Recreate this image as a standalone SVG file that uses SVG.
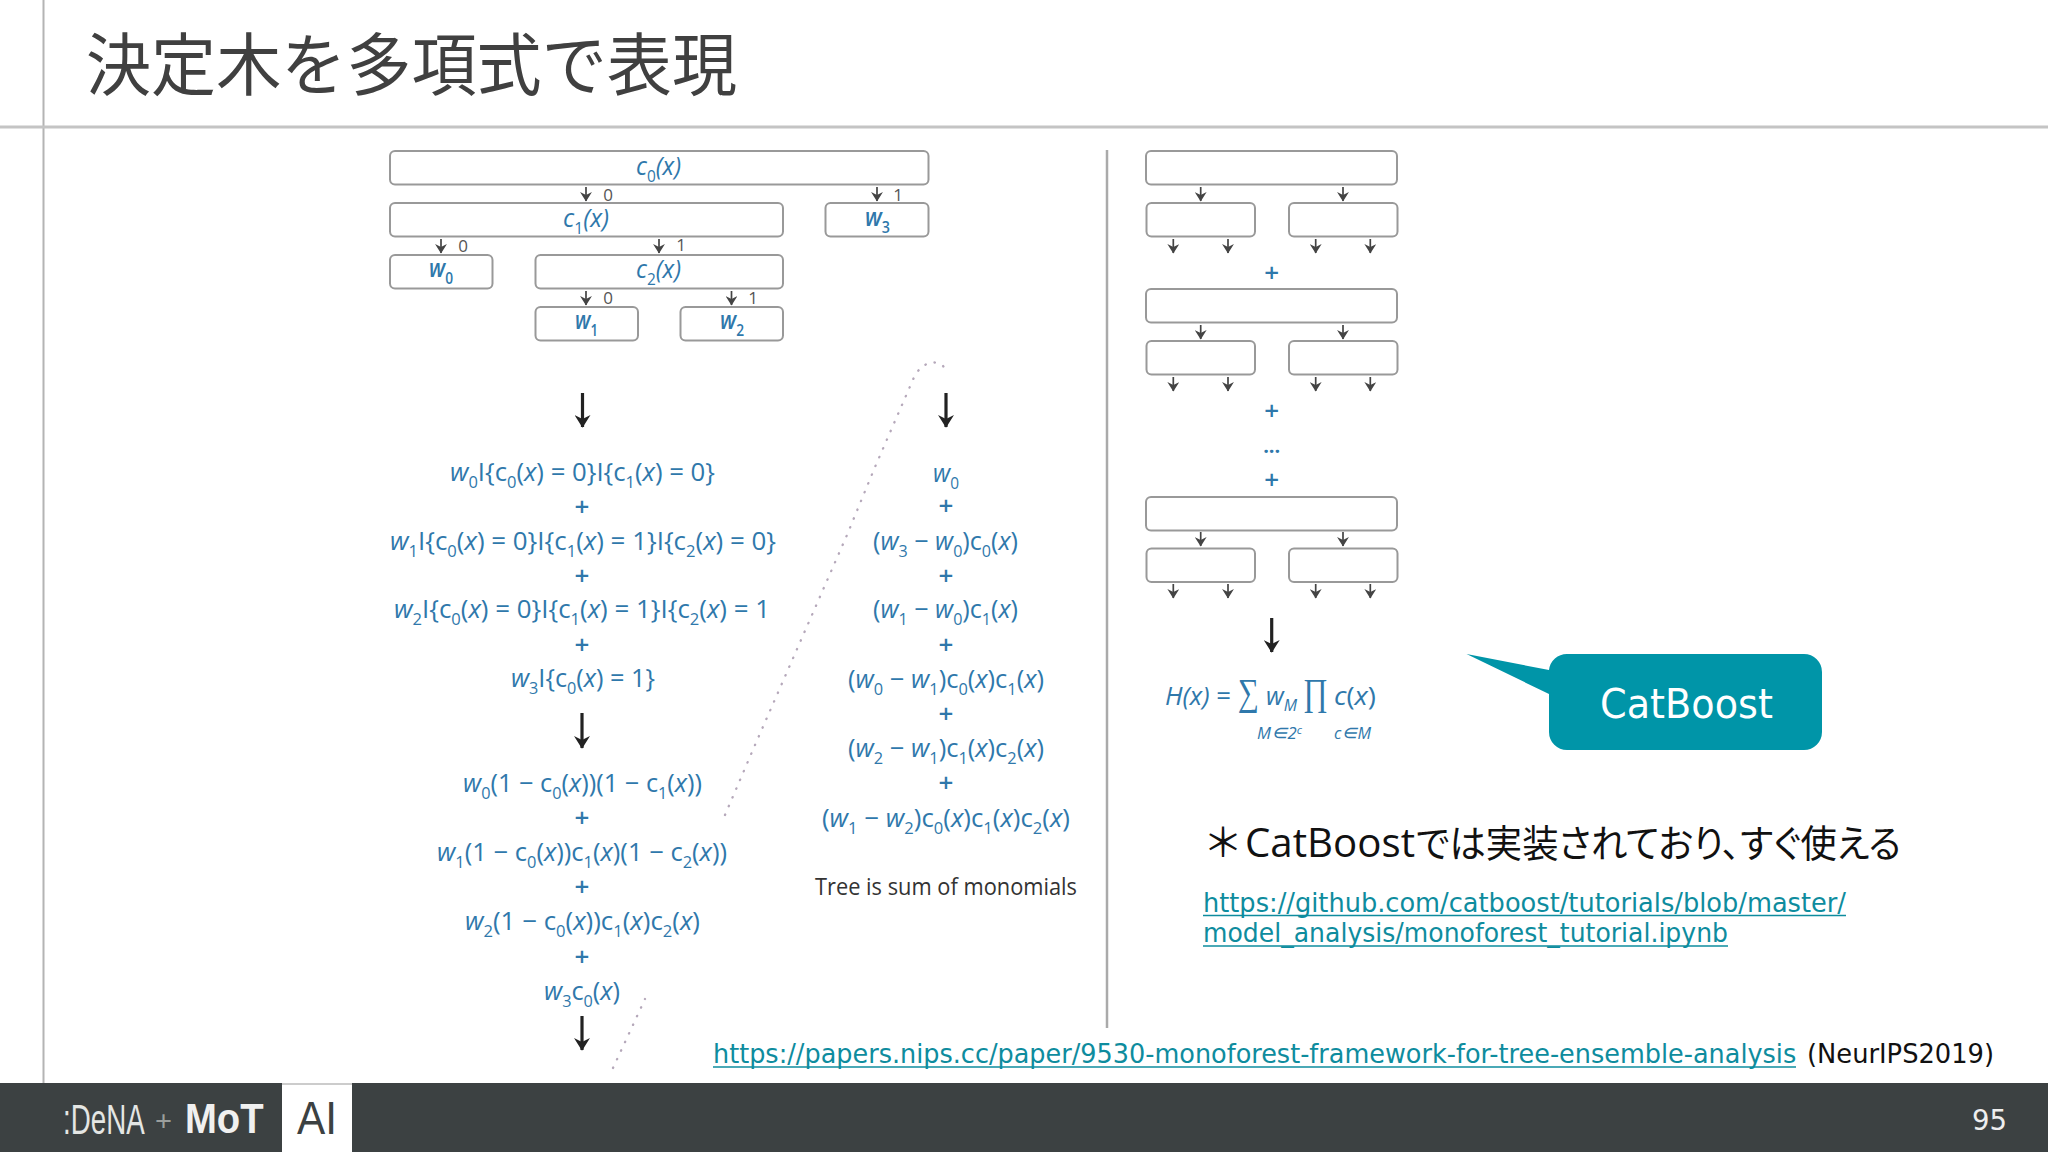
<svg xmlns="http://www.w3.org/2000/svg" width="2048" height="1152" viewBox="0 0 2048 1152">
<style>
text{font-family:"Open Sans","Noto Sans","Noto Sans CJK JP",sans-serif}
.box{fill:#fff;stroke:#999;stroke-width:2}
.m{fill:#2f78ab;font-size:25px;font-weight:500}
.t{fill:#2f78ab;font-size:25px;font-weight:500}
.i{font-style:italic}
.s{font-size:16px;font-style:normal}
.p{fill:#2f78ab;font-size:26px;font-weight:600;text-anchor:middle}
.d{fill:#555;font-size:17px;text-anchor:middle}
.sm{stroke:#444;stroke-width:1.7;fill:none;marker-end:url(#h)}
.bg{stroke:#222;stroke-width:3.2;fill:none;marker-end:url(#h2)}
.dot{fill:none;stroke:#b5a8ba;stroke-width:2.300;stroke-linecap:round;stroke-dasharray:.5 9}
.lk{fill:#0e8c9e;font-family:"DejaVu Sans",sans-serif;font-size:27px}
.ul{stroke:#0e8c9e;stroke-width:1.600}
.lg{font-family:"Liberation Sans",sans-serif}
</style>
<defs>
<marker id="h" viewBox="0 0 8 10" refX="7.500" refY="5" markerWidth="6" markerHeight="7" orient="auto"><path d="M0 0L8 5L0 10L2.500 5z" fill="#444"/></marker>
<marker id="h2" viewBox="0 0 8 10" refX="7.500" refY="5" markerWidth="4.400" markerHeight="5" orient="auto"><path d="M0 0L8 5L0 10L2.500 5z" fill="#222"/></marker>
</defs>
<rect width="2048" height="1152" fill="#fff"/>
<g id="frame">
<line x1="43.500" y1="0" x2="43.500" y2="1084" stroke="#b4b4b4" stroke-width="2"/>
<line x1="0" y1="127" x2="2048" y2="127" stroke="#c4c4c4" stroke-width="3"/>
<text x="86" y="90" font-size="68" fill="#404040" textLength="651" lengthAdjust="spacingAndGlyphs" style="font-family:'Noto Sans CJK JP',sans-serif;font-weight:400">決定木を多項式で表現</text>
</g>
<g id="connectors">
<path class="sm" d="M586 187V201"/><path class="sm" d="M877 187V201"/>
<path class="sm" d="M441 239V253"/><path class="sm" d="M659 239V253"/>
<path class="sm" d="M586 291V305"/><path class="sm" d="M731.500 291V305"/>
<path class="bg" d="M582.500 393V427"/><path class="bg" d="M946 393V427"/>
<path class="bg" d="M582 713V748"/><path class="bg" d="M582 1016V1050"/>
<path class="sm" d="M1200.700 187V201"/><path class="sm" d="M1343 187V201"/>
<path class="sm" d="M1173.300 239V253"/><path class="sm" d="M1228 239V253"/><path class="sm" d="M1315.700 239V253"/><path class="sm" d="M1370.300 239V253"/>
<path class="sm" d="M1200.700 325V339"/><path class="sm" d="M1343 325V339"/>
<path class="sm" d="M1173.300 377V391"/><path class="sm" d="M1228 377V391"/><path class="sm" d="M1315.700 377V391"/><path class="sm" d="M1370.300 377V391"/>
<path class="sm" d="M1200.700 532V546"/><path class="sm" d="M1343 532V546"/>
<path class="sm" d="M1173.300 584V598"/><path class="sm" d="M1228 584V598"/><path class="sm" d="M1315.700 584V598"/><path class="sm" d="M1370.300 584V598"/>
<path class="bg" d="M1271.700 618V652"/>
<path class="dot" d="M725 815L755 745L847 535L875 467L915 375Q925 360 938 363Q944 364 947 374"/>
<path class="dot" d="M613 1068L645 999"/>
<line x1="1107" y1="150" x2="1107" y2="1028" stroke="#aaa" stroke-width="2.500"/>
</g>
<g id="tree-labels">
<text class="d" x="608" y="201">0</text><text class="d" x="898" y="201">1</text>
<text class="d" x="463" y="252">0</text><text class="d" x="681" y="251">1</text>
<text class="d" x="608" y="304">0</text><text class="d" x="753" y="304">1</text>
</g>
<g id="node-c0"><rect class="box" x="390" y="151" width="538.500" height="33.500" rx="5"/><text class="t" x="636" y="175" textLength="45" lengthAdjust="spacingAndGlyphs"><tspan class="i">c</tspan><tspan class="s" dy="7">0</tspan><tspan class="i" dy="-7">(x)</tspan></text></g>
<g id="node-c1"><rect class="box" x="390" y="203" width="393" height="33.500" rx="5"/><text class="t" x="563" y="227" textLength="46" lengthAdjust="spacingAndGlyphs"><tspan class="i">c</tspan><tspan class="s" dy="7">1</tspan><tspan class="i" dy="-7">(x)</tspan></text></g>
<g id="node-w3"><rect class="box" x="825.500" y="203" width="103" height="33.500" rx="5"/><text class="t" x="865" y="226" textLength="25" lengthAdjust="spacingAndGlyphs" style="font-weight:600"><tspan class="i">w</tspan><tspan class="s" dy="7">3</tspan></text></g>
<g id="node-w0"><rect class="box" x="390" y="255" width="102.500" height="33.500" rx="5"/><text class="t" x="429" y="277" textLength="24" lengthAdjust="spacingAndGlyphs" style="font-weight:600"><tspan class="i">w</tspan><tspan class="s" dy="7">0</tspan></text></g>
<g id="node-c2"><rect class="box" x="535.500" y="255" width="247.500" height="33.500" rx="5"/><text class="t" x="636" y="278" textLength="45" lengthAdjust="spacingAndGlyphs"><tspan class="i">c</tspan><tspan class="s" dy="7">2</tspan><tspan class="i" dy="-7">(x)</tspan></text></g>
<g id="node-w1"><rect class="box" x="535.500" y="307" width="102.500" height="33.500" rx="5"/><text class="t" x="575" y="329" textLength="23" lengthAdjust="spacingAndGlyphs" style="font-weight:600"><tspan class="i">w</tspan><tspan class="s" dy="7">1</tspan></text></g>
<g id="node-w2"><rect class="box" x="680.500" y="307" width="102.500" height="33.500" rx="5"/><text class="t" x="720" y="329" textLength="24" lengthAdjust="spacingAndGlyphs" style="font-weight:600"><tspan class="i">w</tspan><tspan class="s" dy="7">2</tspan></text></g>
<g id="formula-indicator">
<text class="m" x="450" y="481" textLength="265" lengthAdjust="spacingAndGlyphs"><tspan class="i">w</tspan><tspan class="s" dy="7">0</tspan><tspan dy="-7">I{c</tspan><tspan class="s" dy="7">0</tspan><tspan dy="-7">(</tspan><tspan class="i">x</tspan>) = 0}I{c<tspan class="s" dy="7">1</tspan><tspan dy="-7">(</tspan><tspan class="i">x</tspan>) = 0}</text>
<text class="p" x="582" y="516">+</text>
<text class="m" x="390" y="550" textLength="386" lengthAdjust="spacingAndGlyphs"><tspan class="i">w</tspan><tspan class="s" dy="7">1</tspan><tspan dy="-7">I{c</tspan><tspan class="s" dy="7">0</tspan><tspan dy="-7">(</tspan><tspan class="i">x</tspan>) = 0}I{c<tspan class="s" dy="7">1</tspan><tspan dy="-7">(</tspan><tspan class="i">x</tspan>) = 1}I{c<tspan class="s" dy="7">2</tspan><tspan dy="-7">(</tspan><tspan class="i">x</tspan>) = 0}</text>
<text class="p" x="582" y="585">+</text>
<text class="m" x="394" y="618" textLength="376" lengthAdjust="spacingAndGlyphs"><tspan class="i">w</tspan><tspan class="s" dy="7">2</tspan><tspan dy="-7">I{c</tspan><tspan class="s" dy="7">0</tspan><tspan dy="-7">(</tspan><tspan class="i">x</tspan>) = 0}I{c<tspan class="s" dy="7">1</tspan><tspan dy="-7">(</tspan><tspan class="i">x</tspan>) = 1}I{c<tspan class="s" dy="7">2</tspan><tspan dy="-7">(</tspan><tspan class="i">x</tspan>) = 1</text>
<text class="p" x="582" y="654">+</text>
<text class="m" x="511" y="687" textLength="144" lengthAdjust="spacingAndGlyphs"><tspan class="i">w</tspan><tspan class="s" dy="7">3</tspan><tspan dy="-7">I{c</tspan><tspan class="s" dy="7">0</tspan><tspan dy="-7">(</tspan><tspan class="i">x</tspan>) = 1}</text>
</g>
<g id="formula-product">
<text class="m" x="463" y="792" textLength="239" lengthAdjust="spacingAndGlyphs"><tspan class="i">w</tspan><tspan class="s" dy="7">0</tspan><tspan dy="-7">(1 − c</tspan><tspan class="s" dy="7">0</tspan><tspan dy="-7">(</tspan><tspan class="i">x</tspan>))(1 − c<tspan class="s" dy="7">1</tspan><tspan dy="-7">(</tspan><tspan class="i">x</tspan>))</text>
<text class="p" x="582" y="827">+</text>
<text class="m" x="437" y="861" textLength="290" lengthAdjust="spacingAndGlyphs"><tspan class="i">w</tspan><tspan class="s" dy="7">1</tspan><tspan dy="-7">(1 − c</tspan><tspan class="s" dy="7">0</tspan><tspan dy="-7">(</tspan><tspan class="i">x</tspan>))c<tspan class="s" dy="7">1</tspan><tspan dy="-7">(</tspan><tspan class="i">x</tspan>)(1 − c<tspan class="s" dy="7">2</tspan><tspan dy="-7">(</tspan><tspan class="i">x</tspan>))</text>
<text class="p" x="582" y="896">+</text>
<text class="m" x="465" y="930" textLength="235" lengthAdjust="spacingAndGlyphs"><tspan class="i">w</tspan><tspan class="s" dy="7">2</tspan><tspan dy="-7">(1 − c</tspan><tspan class="s" dy="7">0</tspan><tspan dy="-7">(</tspan><tspan class="i">x</tspan>))c<tspan class="s" dy="7">1</tspan><tspan dy="-7">(</tspan><tspan class="i">x</tspan>)c<tspan class="s" dy="7">2</tspan><tspan dy="-7">(</tspan><tspan class="i">x</tspan>)</text>
<text class="p" x="582" y="966">+</text>
<text class="m" x="544" y="1000" textLength="76" lengthAdjust="spacingAndGlyphs"><tspan class="i">w</tspan><tspan class="s" dy="7">3</tspan><tspan dy="-7">c</tspan><tspan class="s" dy="7">0</tspan><tspan dy="-7">(</tspan><tspan class="i">x</tspan>)</text>
</g>
<g id="formula-monomials">
<text class="m" x="933" y="482" textLength="26" lengthAdjust="spacingAndGlyphs"><tspan class="i">w</tspan><tspan class="s" dy="7">0</tspan></text>
<text class="p" x="946" y="515">+</text>
<text class="m" x="873" y="550" textLength="145" lengthAdjust="spacingAndGlyphs">(<tspan class="i">w</tspan><tspan class="s" dy="7">3</tspan><tspan dy="-7"> − </tspan><tspan class="i">w</tspan><tspan class="s" dy="7">0</tspan><tspan dy="-7">)c</tspan><tspan class="s" dy="7">0</tspan><tspan dy="-7">(</tspan><tspan class="i">x</tspan>)</text>
<text class="p" x="946" y="585">+</text>
<text class="m" x="873" y="618" textLength="145" lengthAdjust="spacingAndGlyphs">(<tspan class="i">w</tspan><tspan class="s" dy="7">1</tspan><tspan dy="-7"> − </tspan><tspan class="i">w</tspan><tspan class="s" dy="7">0</tspan><tspan dy="-7">)c</tspan><tspan class="s" dy="7">1</tspan><tspan dy="-7">(</tspan><tspan class="i">x</tspan>)</text>
<text class="p" x="946" y="654">+</text>
<text class="m" x="848" y="688" textLength="196" lengthAdjust="spacingAndGlyphs">(<tspan class="i">w</tspan><tspan class="s" dy="7">0</tspan><tspan dy="-7"> − </tspan><tspan class="i">w</tspan><tspan class="s" dy="7">1</tspan><tspan dy="-7">)c</tspan><tspan class="s" dy="7">0</tspan><tspan dy="-7">(</tspan><tspan class="i">x</tspan>)c<tspan class="s" dy="7">1</tspan><tspan dy="-7">(</tspan><tspan class="i">x</tspan>)</text>
<text class="p" x="946" y="723">+</text>
<text class="m" x="848" y="757" textLength="196" lengthAdjust="spacingAndGlyphs">(<tspan class="i">w</tspan><tspan class="s" dy="7">2</tspan><tspan dy="-7"> − </tspan><tspan class="i">w</tspan><tspan class="s" dy="7">1</tspan><tspan dy="-7">)c</tspan><tspan class="s" dy="7">1</tspan><tspan dy="-7">(</tspan><tspan class="i">x</tspan>)c<tspan class="s" dy="7">2</tspan><tspan dy="-7">(</tspan><tspan class="i">x</tspan>)</text>
<text class="p" x="946" y="792">+</text>
<text class="m" x="822" y="827" textLength="248" lengthAdjust="spacingAndGlyphs">(<tspan class="i">w</tspan><tspan class="s" dy="7">1</tspan><tspan dy="-7"> − </tspan><tspan class="i">w</tspan><tspan class="s" dy="7">2</tspan><tspan dy="-7">)c</tspan><tspan class="s" dy="7">0</tspan><tspan dy="-7">(</tspan><tspan class="i">x</tspan>)c<tspan class="s" dy="7">1</tspan><tspan dy="-7">(</tspan><tspan class="i">x</tspan>)c<tspan class="s" dy="7">2</tspan><tspan dy="-7">(</tspan><tspan class="i">x</tspan>)</text>
<text x="815" y="895" font-size="24" fill="#333" textLength="262" lengthAdjust="spacingAndGlyphs">Tree is sum of monomials</text>
</g>
<g id="tree-a"><rect class="box" x="1146" y="151" width="251" height="33.500" rx="5"/><rect class="box" x="1146.500" y="203" width="108.500" height="33.500" rx="5"/><rect class="box" x="1289" y="203" width="108.500" height="33.500" rx="5"/></g>
<g id="tree-b"><rect class="box" x="1146" y="289" width="251" height="33.500" rx="5"/><rect class="box" x="1146.500" y="341" width="108.500" height="33.500" rx="5"/><rect class="box" x="1289" y="341" width="108.500" height="33.500" rx="5"/></g>
<g id="tree-c"><rect class="box" x="1146" y="497" width="251" height="33.500" rx="5"/><rect class="box" x="1146.500" y="548.500" width="108.500" height="33.500" rx="5"/><rect class="box" x="1289" y="548.500" width="108.500" height="33.500" rx="5"/></g>
<g id="ensemble-signs">
<text class="p" x="1271.700" y="282">+</text>
<text class="p" x="1271.700" y="420">+</text>
<text class="p" x="1271.700" y="453" style="font-size:20px;font-weight:700">...</text>
<text class="p" x="1271.700" y="489">+</text>
</g>
<g id="formula-h">
<text class="m" x="1165" y="705" textLength="66" lengthAdjust="spacingAndGlyphs"><tspan class="i">H(x)</tspan> =</text>
<text class="m" x="1238" y="705" textLength="21" lengthAdjust="spacingAndGlyphs" style="font-family:'Liberation Serif',serif;font-size:38px;font-weight:400">∑</text>
<text class="m" x="1266" y="705" textLength="31" lengthAdjust="spacingAndGlyphs"><tspan class="i">w</tspan><tspan class="s" dy="6" style="font-style:italic">M</tspan></text>
<text class="m" x="1303" y="705" textLength="25" lengthAdjust="spacingAndGlyphs" style="font-family:'Liberation Serif',serif;font-size:38px;font-weight:400">∏</text>
<text class="m" x="1334" y="705" textLength="42" lengthAdjust="spacingAndGlyphs"><tspan class="i">c</tspan>(<tspan class="i">x</tspan>)</text>
<text class="m i" x="1257" y="739" textLength="45" lengthAdjust="spacingAndGlyphs" style="font-size:16px">M∈2<tspan dy="-5" style="font-size:11px">c</tspan></text>
<text class="m i" x="1334" y="739" textLength="37" lengthAdjust="spacingAndGlyphs" style="font-size:16px">c∈M</text>
</g>
<g id="catboost-callout">
<path d="M1567 654H1804a18 18 0 0 1 18 18V732a18 18 0 0 1 -18 18H1567a18 18 0 0 1 -18 -18V694L1466.500 654L1549 670A18 18 0 0 1 1567 654z" fill="#0095a8"/>
<text x="1600" y="718" font-size="40" fill="#fff" textLength="173" lengthAdjust="spacingAndGlyphs" style="font-family:'DejaVu Sans',sans-serif">CatBoost</text>
</g>
<g id="notes">
<text x="1203" y="857" font-size="40" fill="#111" style="font-family:'Noto Sans CJK JP',sans-serif">＊</text>
<text x="1245" y="857" font-size="40" fill="#111" textLength="170" lengthAdjust="spacingAndGlyphs">CatBoost</text>
<text x="1416" y="857" font-size="38" fill="#111" textLength="485" lengthAdjust="spacingAndGlyphs" style="font-family:'Noto Sans CJK JP',sans-serif;font-feature-settings:'palt'">では実装されており、すぐ使える</text>
<text class="lk" x="1203" y="912" textLength="643" lengthAdjust="spacingAndGlyphs">https://github.com/catboost/tutorials/blob/master/</text>
<line class="ul" x1="1203" y1="915.500" x2="1846" y2="915.500"/>
<text class="lk" x="1203" y="942" textLength="525" lengthAdjust="spacingAndGlyphs">model_analysis/monoforest_tutorial.ipynb</text>
<line class="ul" x1="1203" y1="946" x2="1728" y2="946"/>
<text class="lk" transform="translate(713 1063) scale(.857 1)" textLength="1264" lengthAdjust="spacingAndGlyphs">https://papers.nips.cc/paper/9530-monoforest-framework-for-tree-ensemble-analysis</text>
<line class="ul" x1="713" y1="1067" x2="1796" y2="1067"/>
<text x="1807" y="1063" font-size="27" fill="#111" textLength="187" lengthAdjust="spacingAndGlyphs" style="font-family:'DejaVu Sans',sans-serif">(NeurIPS2019)</text>
</g>
<g id="footer">
<rect x="0" y="1083" width="2048" height="69" fill="#3c4142"/>
<rect x="282" y="1084" width="70" height="68" fill="#fff"/>
<rect x="282" y="1083" width="70" height="2" fill="#ccc"/>
<text class="lg" x="297" y="1134" font-size="46" fill="#3c4142" textLength="40" lengthAdjust="spacingAndGlyphs">AI</text>
<text class="lg" transform="translate(63 1134) scale(.66 1)" font-size="42" fill="#e4e6e4">:DeNA</text>
<text class="lg" x="155" y="1130" font-size="28" fill="#9a9e9c" textLength="17" lengthAdjust="spacingAndGlyphs">+</text>
<text class="lg" transform="translate(185 1133) scale(.89 1)" font-size="43" font-weight="700" fill="#f0f0f0">MoT</text>
<text x="1972" y="1130" font-size="29" fill="#eee" textLength="35" lengthAdjust="spacingAndGlyphs" style="font-family:'DejaVu Sans',sans-serif">95</text>
</g>
</svg>
